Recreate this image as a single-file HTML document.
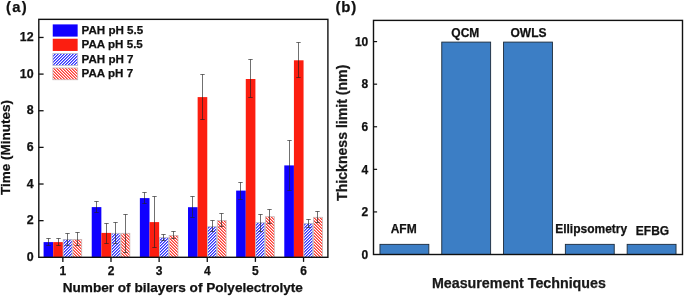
<!DOCTYPE html>
<html><head><meta charset="utf-8"><style>
html,body{margin:0;padding:0;background:#fff;width:685px;height:296px;overflow:hidden}
svg{display:block;will-change:transform}
text{font-family:"Liberation Sans",sans-serif;font-weight:bold;stroke:#111;stroke-width:0.25px}
</style></head><body>
<svg width="685" height="296" viewBox="0 0 685 296">
<defs><pattern id="hb" patternUnits="userSpaceOnUse" width="3" height="3"><rect x="0" y="0" width="1" height="1" fill="#3232ff"/><rect x="1" y="0" width="1" height="1" fill="#8484ff"/><rect x="2" y="0" width="1" height="1" fill="#ffffff"/><rect x="0" y="1" width="1" height="1" fill="#8484ff"/><rect x="1" y="1" width="1" height="1" fill="#ffffff"/><rect x="2" y="1" width="1" height="1" fill="#3232ff"/><rect x="0" y="2" width="1" height="1" fill="#ffffff"/><rect x="1" y="2" width="1" height="1" fill="#3232ff"/><rect x="2" y="2" width="1" height="1" fill="#8484ff"/></pattern><pattern id="hr" patternUnits="userSpaceOnUse" width="3" height="3"><rect x="0" y="0" width="1" height="1" fill="#ff3c32"/><rect x="1" y="0" width="1" height="1" fill="#ff8a84"/><rect x="2" y="0" width="1" height="1" fill="#ffffff"/><rect x="0" y="1" width="1" height="1" fill="#ffffff"/><rect x="1" y="1" width="1" height="1" fill="#ff3c32"/><rect x="2" y="1" width="1" height="1" fill="#ff8a84"/><rect x="0" y="2" width="1" height="1" fill="#ff8a84"/><rect x="1" y="2" width="1" height="1" fill="#ffffff"/><rect x="2" y="2" width="1" height="1" fill="#ff3c32"/></pattern></defs>
<rect width="685" height="296" fill="#fff"/>
<rect x="43.59" y="242.1" width="9.63" height="15.20" fill="rgb(16,0,255)"/>
<rect x="53.22" y="242.1" width="9.63" height="15.20" fill="rgb(252,30,16)"/>
<rect x="63.25" y="239.4" width="8.83" height="17.90" fill="url(#hb)" stroke="rgb(185,185,200)" stroke-width="0.8"/>
<rect x="72.88" y="239.4" width="8.83" height="17.90" fill="url(#hr)" stroke="rgb(200,185,185)" stroke-width="0.8"/>
<path d="M48.5 238.5V245.5M46.3 238.5h4.4M46.3 245.5h4.4" stroke="#222" stroke-width="0.65" fill="none"/>
<path d="M58.5 238.5V245.5M56.3 238.5h4.4M56.3 245.5h4.4" stroke="#222" stroke-width="0.65" fill="none"/>
<path d="M67.5 233.5V245.5M65.3 233.5h4.4M65.3 245.5h4.4" stroke="#222" stroke-width="0.65" fill="none"/>
<path d="M77.5 232.5V245.5M75.3 232.5h4.4M75.3 245.5h4.4" stroke="#222" stroke-width="0.65" fill="none"/>
<rect x="91.73" y="207.1" width="9.63" height="50.20" fill="rgb(16,0,255)"/>
<rect x="101.36" y="232.9" width="9.63" height="24.40" fill="rgb(252,30,16)"/>
<rect x="111.39" y="233.3" width="8.83" height="24.00" fill="url(#hb)" stroke="rgb(185,185,200)" stroke-width="0.8"/>
<rect x="121.02" y="233.3" width="8.83" height="24.00" fill="url(#hr)" stroke="rgb(200,185,185)" stroke-width="0.8"/>
<path d="M96.5 201.5V212.5M94.3 201.5h4.4M94.3 212.5h4.4" stroke="#222" stroke-width="0.65" fill="none"/>
<path d="M106.5 223.5V243.5M104.3 223.5h4.4M104.3 243.5h4.4" stroke="#222" stroke-width="0.65" fill="none"/>
<path d="M115.5 222.5V243.5M113.3 222.5h4.4M113.3 243.5h4.4" stroke="#222" stroke-width="0.65" fill="none"/>
<path d="M125.5 214.5V252.5M123.3 214.5h4.4M123.3 252.5h4.4" stroke="#222" stroke-width="0.65" fill="none"/>
<rect x="139.87" y="198.1" width="9.63" height="59.20" fill="rgb(16,0,255)"/>
<rect x="149.50" y="222.1" width="9.63" height="35.20" fill="rgb(252,30,16)"/>
<rect x="159.53" y="237.70000000000002" width="8.83" height="19.60" fill="url(#hb)" stroke="rgb(185,185,200)" stroke-width="0.8"/>
<rect x="169.16" y="235.4" width="8.83" height="21.90" fill="url(#hr)" stroke="rgb(200,185,185)" stroke-width="0.8"/>
<path d="M144.5 192.5V203.5M142.3 192.5h4.4M142.3 203.5h4.4" stroke="#222" stroke-width="0.65" fill="none"/>
<path d="M154.5 196.5V247.5M152.3 196.5h4.4M152.3 247.5h4.4" stroke="#222" stroke-width="0.65" fill="none"/>
<path d="M163.5 234.5V240.5M161.3 234.5h4.4M161.3 240.5h4.4" stroke="#222" stroke-width="0.65" fill="none"/>
<path d="M173.5 231.5V238.5M171.3 231.5h4.4M171.3 238.5h4.4" stroke="#222" stroke-width="0.65" fill="none"/>
<rect x="188.01" y="207.2" width="9.63" height="50.10" fill="rgb(16,0,255)"/>
<rect x="197.64" y="97.1" width="9.63" height="160.20" fill="rgb(252,30,16)"/>
<rect x="207.67" y="226.70000000000002" width="8.83" height="30.60" fill="url(#hb)" stroke="rgb(185,185,200)" stroke-width="0.8"/>
<rect x="217.30" y="220.4" width="8.83" height="36.90" fill="url(#hr)" stroke="rgb(200,185,185)" stroke-width="0.8"/>
<path d="M192.5 196.5V217.5M190.3 196.5h4.4M190.3 217.5h4.4" stroke="#222" stroke-width="0.65" fill="none"/>
<path d="M202.5 74.5V119.5M200.3 74.5h4.4M200.3 119.5h4.4" stroke="#222" stroke-width="0.65" fill="none"/>
<path d="M212.5 220.5V231.5M210.3 220.5h4.4M210.3 231.5h4.4" stroke="#222" stroke-width="0.65" fill="none"/>
<path d="M221.5 213.5V226.5M219.3 213.5h4.4M219.3 226.5h4.4" stroke="#222" stroke-width="0.65" fill="none"/>
<rect x="236.15" y="190.6" width="9.63" height="66.70" fill="rgb(16,0,255)"/>
<rect x="245.78" y="79.0" width="9.63" height="178.30" fill="rgb(252,30,16)"/>
<rect x="255.81" y="222.70000000000002" width="8.83" height="34.60" fill="url(#hb)" stroke="rgb(185,185,200)" stroke-width="0.8"/>
<rect x="265.44" y="216.70000000000002" width="8.83" height="40.60" fill="url(#hr)" stroke="rgb(200,185,185)" stroke-width="0.8"/>
<path d="M240.5 182.5V199.5M238.3 182.5h4.4M238.3 199.5h4.4" stroke="#222" stroke-width="0.65" fill="none"/>
<path d="M250.5 59.5V97.5M248.3 59.5h4.4M248.3 97.5h4.4" stroke="#222" stroke-width="0.65" fill="none"/>
<path d="M260.5 214.5V231.5M258.3 214.5h4.4M258.3 231.5h4.4" stroke="#222" stroke-width="0.65" fill="none"/>
<path d="M269.5 209.5V223.5M267.3 209.5h4.4M267.3 223.5h4.4" stroke="#222" stroke-width="0.65" fill="none"/>
<rect x="284.29" y="165.4" width="9.63" height="91.90" fill="rgb(16,0,255)"/>
<rect x="293.92" y="60.3" width="9.63" height="197.00" fill="rgb(252,30,16)"/>
<rect x="303.95" y="223.5" width="8.83" height="33.80" fill="url(#hb)" stroke="rgb(185,185,200)" stroke-width="0.8"/>
<rect x="313.58" y="217.3" width="8.83" height="40.00" fill="url(#hr)" stroke="rgb(200,185,185)" stroke-width="0.8"/>
<path d="M289.5 140.5V190.5M287.3 140.5h4.4M287.3 190.5h4.4" stroke="#222" stroke-width="0.65" fill="none"/>
<path d="M298.5 42.5V77.5M296.3 42.5h4.4M296.3 77.5h4.4" stroke="#222" stroke-width="0.65" fill="none"/>
<path d="M308.5 219.5V227.5M306.3 219.5h4.4M306.3 227.5h4.4" stroke="#222" stroke-width="0.65" fill="none"/>
<path d="M317.5 211.5V222.5M315.3 211.5h4.4M315.3 222.5h4.4" stroke="#222" stroke-width="0.65" fill="none"/>
<rect x="38.8" y="19.35" width="289.10" height="237.95" fill="none" stroke="#111" stroke-width="1.4"/>
<text x="33.6" y="261.00" text-anchor="end" font-size="12.4" font-family="Liberation Sans, sans-serif" font-weight="bold" fill="#111">0</text>
<path d="M38.8 220.66h4.8" stroke="#111" stroke-width="1.3"/>
<text x="33.6" y="224.36" text-anchor="end" font-size="12.4" font-family="Liberation Sans, sans-serif" font-weight="bold" fill="#111">2</text>
<path d="M38.8 184.02h4.8" stroke="#111" stroke-width="1.3"/>
<text x="33.6" y="187.72" text-anchor="end" font-size="12.4" font-family="Liberation Sans, sans-serif" font-weight="bold" fill="#111">4</text>
<path d="M38.8 147.38h4.8" stroke="#111" stroke-width="1.3"/>
<text x="33.6" y="151.08" text-anchor="end" font-size="12.4" font-family="Liberation Sans, sans-serif" font-weight="bold" fill="#111">6</text>
<path d="M38.8 110.74h4.8" stroke="#111" stroke-width="1.3"/>
<text x="33.6" y="114.44" text-anchor="end" font-size="12.4" font-family="Liberation Sans, sans-serif" font-weight="bold" fill="#111">8</text>
<path d="M38.8 74.10h4.8" stroke="#111" stroke-width="1.3"/>
<text x="33.6" y="77.80" text-anchor="end" font-size="12.4" font-family="Liberation Sans, sans-serif" font-weight="bold" fill="#111">10</text>
<path d="M38.8 37.46h4.8" stroke="#111" stroke-width="1.3"/>
<text x="33.6" y="41.16" text-anchor="end" font-size="12.4" font-family="Liberation Sans, sans-serif" font-weight="bold" fill="#111">12</text>
<path d="M62.85 257.3v4.6" stroke="#111" stroke-width="1.3"/>
<text x="62.85" y="275" text-anchor="middle" font-size="12" font-family="Liberation Sans, sans-serif" font-weight="bold" fill="#111">1</text>
<path d="M110.99 257.3v4.6" stroke="#111" stroke-width="1.3"/>
<text x="110.99" y="275" text-anchor="middle" font-size="12" font-family="Liberation Sans, sans-serif" font-weight="bold" fill="#111">2</text>
<path d="M159.13 257.3v4.6" stroke="#111" stroke-width="1.3"/>
<text x="159.13" y="275" text-anchor="middle" font-size="12" font-family="Liberation Sans, sans-serif" font-weight="bold" fill="#111">3</text>
<path d="M207.27 257.3v4.6" stroke="#111" stroke-width="1.3"/>
<text x="207.27" y="275" text-anchor="middle" font-size="12" font-family="Liberation Sans, sans-serif" font-weight="bold" fill="#111">4</text>
<path d="M255.41 257.3v4.6" stroke="#111" stroke-width="1.3"/>
<text x="255.41" y="275" text-anchor="middle" font-size="12" font-family="Liberation Sans, sans-serif" font-weight="bold" fill="#111">5</text>
<path d="M303.55 257.3v4.6" stroke="#111" stroke-width="1.3"/>
<text x="303.55" y="275" text-anchor="middle" font-size="12" font-family="Liberation Sans, sans-serif" font-weight="bold" fill="#111">6</text>
<rect x="52.75" y="24.40" width="24.9" height="12.2" fill="rgb(16,0,255)"/>
<text x="81.6" y="33.80" font-size="11.6" font-family="Liberation Sans, sans-serif" font-weight="bold" fill="#111">PAH pH 5.5</text>
<rect x="52.75" y="38.75" width="24.9" height="12.2" fill="rgb(252,30,16)"/>
<text x="81.6" y="48.15" font-size="11.6" font-family="Liberation Sans, sans-serif" font-weight="bold" fill="#111">PAA pH 5.5</text>
<rect x="52.9" y="53.60" width="24.8" height="11.8" fill="url(#hb)" stroke="rgb(185,185,200)" stroke-width="0.8"/>
<text x="81.6" y="62.50" font-size="11.6" font-family="Liberation Sans, sans-serif" font-weight="bold" fill="#111">PAH pH 7</text>
<rect x="52.9" y="67.95" width="24.8" height="11.8" fill="url(#hr)" stroke="rgb(200,185,185)" stroke-width="0.8"/>
<text x="81.6" y="76.85" font-size="11.6" font-family="Liberation Sans, sans-serif" font-weight="bold" fill="#111">PAA pH 7</text>
<text x="6.1" y="12.2" font-size="14.8" letter-spacing="1.2" font-family="Liberation Sans, sans-serif" font-weight="bold" fill="#111" stroke="#111" stroke-width="0.5">(a)</text>
<text x="182.8" y="291.6" text-anchor="middle" font-size="13.6" font-family="Liberation Sans, sans-serif" font-weight="bold" fill="#111">Number of bilayers of Polyelectrolyte</text>
<text transform="translate(10.4,147.4) rotate(-90)" text-anchor="middle" font-size="13.5" font-family="Liberation Sans, sans-serif" font-weight="bold" fill="#111">Time (Minutes)</text>
<rect x="379.96" y="244.35" width="48.87" height="10.15" fill="rgb(60,126,197)" stroke="#1b2a3a" stroke-width="0.9"/>
<rect x="441.76" y="42.10" width="48.87" height="212.40" fill="rgb(60,126,197)" stroke="#1b2a3a" stroke-width="0.9"/>
<rect x="503.56" y="42.10" width="48.87" height="212.40" fill="rgb(60,126,197)" stroke="#1b2a3a" stroke-width="0.9"/>
<rect x="565.36" y="244.35" width="48.87" height="10.15" fill="rgb(60,126,197)" stroke="#1b2a3a" stroke-width="0.9"/>
<rect x="627.16" y="244.35" width="48.87" height="10.15" fill="rgb(60,126,197)" stroke="#1b2a3a" stroke-width="0.9"/>
<text x="403.7" y="233.2" text-anchor="middle" font-size="12" font-family="Liberation Sans, sans-serif" font-weight="bold" fill="#111">AFM</text>
<text x="465.3" y="36.7" text-anchor="middle" font-size="12" font-family="Liberation Sans, sans-serif" font-weight="bold" fill="#111">QCM</text>
<text x="528.5" y="36.7" text-anchor="middle" font-size="12" font-family="Liberation Sans, sans-serif" font-weight="bold" fill="#111">OWLS</text>
<text x="591.2" y="233.1" text-anchor="middle" font-size="12" font-family="Liberation Sans, sans-serif" font-weight="bold" fill="#111">Ellipsometry</text>
<text x="652.5" y="235.0" text-anchor="middle" font-size="12" font-family="Liberation Sans, sans-serif" font-weight="bold" fill="#111">EFBG</text>
<rect x="373.5" y="20.4" width="309.00" height="234.10" fill="none" stroke="#111" stroke-width="1.4"/>
<text x="368.3" y="258.80" text-anchor="end" font-size="12" font-family="Liberation Sans, sans-serif" font-weight="bold" fill="#111">0</text>
<path d="M373.5 211.92h3.6" stroke="#111" stroke-width="1.2"/>
<text x="368.3" y="216.22" text-anchor="end" font-size="12" font-family="Liberation Sans, sans-serif" font-weight="bold" fill="#111">2</text>
<path d="M373.5 169.34h3.6" stroke="#111" stroke-width="1.2"/>
<text x="368.3" y="173.64" text-anchor="end" font-size="12" font-family="Liberation Sans, sans-serif" font-weight="bold" fill="#111">4</text>
<path d="M373.5 126.76h3.6" stroke="#111" stroke-width="1.2"/>
<text x="368.3" y="131.06" text-anchor="end" font-size="12" font-family="Liberation Sans, sans-serif" font-weight="bold" fill="#111">6</text>
<path d="M373.5 84.18h3.6" stroke="#111" stroke-width="1.2"/>
<text x="368.3" y="88.48" text-anchor="end" font-size="12" font-family="Liberation Sans, sans-serif" font-weight="bold" fill="#111">8</text>
<path d="M373.5 41.60h3.6" stroke="#111" stroke-width="1.2"/>
<text x="368.3" y="45.90" text-anchor="end" font-size="12" font-family="Liberation Sans, sans-serif" font-weight="bold" fill="#111">10</text>
<text x="335.4" y="12.1" font-size="15.0" letter-spacing="0.9" font-family="Liberation Sans, sans-serif" font-weight="bold" fill="#111" stroke="#111" stroke-width="0.5">(b)</text>
<text x="518.9" y="287.7" text-anchor="middle" font-size="14.25" font-family="Liberation Sans, sans-serif" font-weight="bold" fill="#1a1a1a">Measurement Techniques</text>
<text transform="translate(347.0,132.8) rotate(-90)" text-anchor="middle" font-size="14.1" font-family="Liberation Sans, sans-serif" font-weight="bold" fill="#1a1a1a">Thickness limit (nm)</text>
</svg>
</body></html>
